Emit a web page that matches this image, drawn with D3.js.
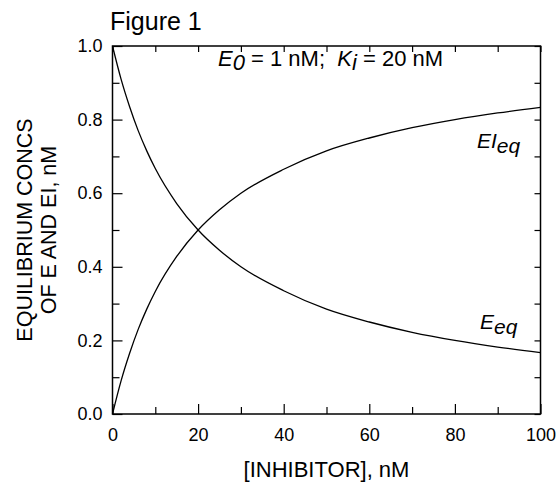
<!DOCTYPE html>
<html>
<head>
<meta charset="utf-8">
<script src="https://cdn.jsdelivr.net/npm/d3@7"></script>
<style>
  body { margin: 0; background: #fff; }
  text { font-family: "Liberation Sans", Arial, sans-serif; fill: #000; }
</style>
</head>
<body>
<div id="graph"></div>
<script>
// values
var inhibitor = [0, 2, 4, 6, 8, 10, 15, 20, 25, 30, 40, 50, 60, 70, 80, 90, 100];
var eEq  = [1.0, 0.91, 0.835, 0.77, 0.715, 0.667, 0.572, 0.50, 0.445, 0.40, 0.335, 0.285, 0.25, 0.222, 0.20, 0.182, 0.167];
var eiEq = [0.0, 0.09, 0.165, 0.23, 0.285, 0.333, 0.428, 0.50, 0.555, 0.60, 0.665, 0.715, 0.75, 0.778, 0.80, 0.818, 0.833];

var xMajor = [0, 20, 40, 60, 80, 100];
var xMinor = [10, 30, 50, 70, 90];
var yMajor = [0, 0.2, 0.4, 0.6, 0.8, 1.0];
var yMinor = [0.1, 0.3, 0.5, 0.7, 0.9];

function render() {
  var width = 556, height = 482;
  // plot box (careful: "top" is a reserved global in browsers)
  var pLeft = 112.5, pRight = 540.5, pTop = 46, pBottom = 414;

  var svg = d3.select("#graph").append("svg")
    .attr("width", width)
    .attr("height", height);

  var x = d3.scaleLinear().domain([0, 100]).range([pLeft, pRight]);
  var y = d3.scaleLinear().domain([0, 1]).range([pBottom, pTop]);

  // bottom axis: minor then major with labels
  svg.append("g")
    .attr("transform", "translate(0," + pBottom + ")")
    .call(d3.axisBottom(x).tickValues(xMinor).tickSize(-7).tickSizeOuter(0).tickFormat(""));
  svg.append("g")
    .attr("class", "xaxis")
    .attr("transform", "translate(0," + pBottom + ")")
    .call(d3.axisBottom(x).tickValues(xMajor).tickSize(-10).tickSizeOuter(0).tickPadding(14)
      .tickFormat(d3.format("d")));

  // left axis
  svg.append("g")
    .attr("transform", "translate(" + pLeft + ",0)")
    .call(d3.axisLeft(y).tickValues(yMinor).tickSize(-7).tickSizeOuter(0).tickFormat(""));
  svg.append("g")
    .attr("class", "yaxis")
    .attr("transform", "translate(" + pLeft + ",0)")
    .call(d3.axisLeft(y).tickValues(yMajor).tickSize(-10).tickSizeOuter(0).tickPadding(10)
      .tickFormat(d3.format(".1f")));

  // top and right: short inward ticks only
  svg.append("g")
    .attr("transform", "translate(0," + pTop + ")")
    .call(d3.axisTop(x).tickValues(xMajor.concat(xMinor)).tickSize(-6).tickSizeOuter(0).tickFormat(""));
  svg.append("g")
    .attr("transform", "translate(" + pRight + ",0)")
    .call(d3.axisRight(y).tickValues(yMajor.concat(yMinor)).tickSize(-6).tickSizeOuter(0).tickFormat(""));

  svg.selectAll(".domain").remove();
  svg.selectAll(".tick line").attr("stroke", "#000").attr("stroke-width", 1.2);
  svg.selectAll(".xaxis text, .yaxis text")
    .style("font-size", "18px")
    .attr("fill", "#000");

  // frame
  svg.append("rect")
    .attr("x", pLeft).attr("y", pTop)
    .attr("width", pRight - pLeft).attr("height", pBottom - pTop)
    .attr("fill", "none").attr("stroke", "#000").attr("stroke-width", 1.5);

  // curves
  var line = function(vals) {
    return d3.line()
      .x(function(d, i) { return x(inhibitor[i]); })
      .y(function(d) { return y(d); })
      .curve(d3.curveMonotoneX)(vals);
  };
  [eEq, eiEq].forEach(function(vals) {
    svg.append("path")
      .attr("d", line(vals))
      .attr("fill", "none")
      .attr("stroke", "#000")
      .attr("stroke-width", 1.3);
  });

  // titles
  svg.append("text")
    .attr("x", 110).attr("y", 30)
    .style("font-size", "25px")
    .text("Figure 1");

  svg.append("text")
    .attr("x", (pLeft + pRight) / 2).attr("y", 477)
    .attr("text-anchor", "middle")
    .style("font-size", "22px")
    .text("[INHIBITOR], nM");

  var yt = svg.append("text")
    .attr("transform", "translate(0," + (pTop + pBottom) / 2 + ") rotate(-90)")
    .attr("text-anchor", "middle")
    .style("font-size", "21.5px");
  yt.append("tspan").attr("x", 0).attr("y", 32).text("EQUILIBRIUM CONCS");
  yt.append("tspan").attr("x", 0).attr("y", 56).text("OF E AND EI, nM");

  // annotation E0 = 1 nM;  Ki = 20 nM
  var ann = svg.append("text")
    .attr("x", 218).attr("y", 66)
    .style("font-size", "22px")
    .attr("xml:space", "preserve");
  ann.append("tspan").style("font-style", "italic").text("E");
  ann.append("tspan").style("font-style", "italic").attr("dy", 4).text("0");
  ann.append("tspan").attr("dy", -4).text(" = 1 nM;  ");
  ann.append("tspan").style("font-style", "italic").text("K");
  ann.append("tspan").style("font-style", "italic").attr("dy", 4).text("i");
  ann.append("tspan").attr("dy", -4).text(" = 20 nM");

  // curve labels
  function subLabel(xp, yp, main, sub) {
    var t = svg.append("text")
      .attr("x", xp).attr("y", yp)
      .style("font-size", "21px")
      .style("font-style", "italic");
    t.append("tspan").text(main);
    t.append("tspan").attr("dy", 5).text(sub);
  }
  subLabel(477, 148, "EI", "eq");
  subLabel(480, 329, "E", "eq");
}

render();
</script>
</body>
</html>
